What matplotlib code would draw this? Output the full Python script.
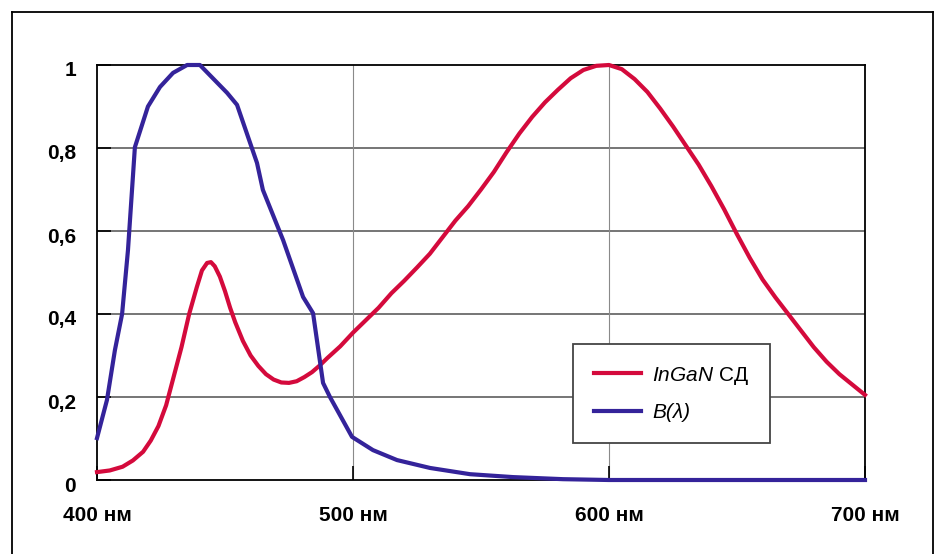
import matplotlib
matplotlib.use('Agg')
import matplotlib.pyplot as plt
from matplotlib.lines import Line2D
from matplotlib.transforms import ScaledTranslation

plt.rcParams['font.family'] = ['Liberation Sans', 'DejaVu Sans']
plt.rcParams['mathtext.fontset'] = 'custom'
plt.rcParams['mathtext.it'] = 'Liberation Sans:italic'
plt.rcParams['mathtext.rm'] = 'Liberation Sans'

# спектр InGaN светодиода
ingan_nm = [400, 405, 410, 414, 418, 421, 424, 427, 430, 433, 436, 439, 441, 443, 444.5,
            446, 448, 450, 452, 454, 457, 460, 463, 466, 469, 472, 475, 478, 481, 484, 487,
            490, 495, 500, 505, 510, 515, 520, 525, 530, 535, 540, 545, 550, 555, 560, 565,
            570, 575, 580, 585, 590, 595, 600, 605, 610, 615, 620, 625, 630, 635, 640, 645,
            650, 655, 660, 665, 670, 675, 680, 685, 690, 695, 700]
ingan_val = [0.019, 0.023, 0.032, 0.047, 0.068, 0.095, 0.13, 0.18, 0.25, 0.32, 0.40, 0.465,
             0.505, 0.523, 0.525, 0.515, 0.49, 0.455, 0.415, 0.38, 0.335, 0.30, 0.275, 0.255,
             0.242, 0.235, 0.234, 0.238, 0.248, 0.26, 0.276, 0.294, 0.322, 0.355, 0.385, 0.415,
             0.45, 0.48, 0.512, 0.545, 0.585, 0.625, 0.66, 0.70, 0.742, 0.79, 0.835, 0.875,
             0.91, 0.94, 0.968, 0.988, 0.998, 1.0, 0.99, 0.966, 0.935, 0.895, 0.852, 0.806,
             0.76, 0.708, 0.652, 0.592, 0.535, 0.483, 0.44, 0.40, 0.36, 0.32, 0.285, 0.255,
             0.23, 0.205]

# функция B(λ)
blue_nm = [400, 403.9, 407, 409.8, 412.1, 414.8, 419.9, 424.6, 429.7, 435.2, 440.2, 450.8,
           454.7, 462.5, 464.8, 472.7, 480.5, 484.4, 488.3, 491, 498.8, 499.6, 507.8, 517.2,
           530.1, 545.7, 562.5, 582, 600, 700]
blue_val = [0.101, 0.193, 0.313, 0.40, 0.554, 0.802, 0.90, 0.947, 0.981, 1.0, 1.0, 0.933,
            0.904, 0.764, 0.699, 0.578, 0.441, 0.402, 0.234, 0.200, 0.113, 0.104, 0.072, 0.048,
            0.029, 0.014, 0.007, 0.002, 0.0, 0.0]

x_ticks = [400, 500, 600, 700]
x_labels = ['400 нм', '500 нм', '600 нм', '700 нм']
y_ticks = [0, 0.2, 0.4, 0.6, 0.8, 1.0]
y_labels = ['0', '0,2', '0,4', '0,6', '0,8', '1']

W, H = 936, 554
fig = plt.figure(figsize=(W / 100, H / 100), dpi=100)
ax = fig.add_axes([97 / W, 1 - 480 / H, 768 / W, 415 / H])

# внешняя рамка
fr = dict(color='black', lw=1.3, transform=fig.transFigure)
fig.add_artist(Line2D([12 / W, 12 / W], [0, 1 - 12 / H], **fr))
fig.add_artist(Line2D([12 / W, 933 / W], [1 - 12 / H, 1 - 12 / H], **fr))
fig.add_artist(Line2D([933 / W, 933 / W], [0, 1 - 12 / H], **fr))

red = '#d40a3c'
blue = '#34239a'
ax.plot(ingan_nm, ingan_val, color=red, lw=3, solid_joinstyle='round', clip_on=False, zorder=4)
ax.plot(blue_nm, blue_val, color=blue, lw=3, solid_joinstyle='round', clip_on=False, zorder=5)

for y in y_ticks[1:-1]:
    ax.axhline(y, color='#505050', lw=1.1, zorder=1)
for x in x_ticks[1:-1]:
    ax.axvline(x, color='#8a8a8a', lw=0.8, zorder=1)

ax.set_xlim(400, 700)
ax.set_ylim(0, 1)
ax.set_xticks(x_ticks)
ax.set_xticklabels(x_labels)
ax.set_yticks(y_ticks)
ax.set_yticklabels(y_labels)
ax.tick_params(axis='both', direction='in', length=10, width=1.2, color='black',
               labelsize=15)
ax.tick_params(axis='x', pad=18.5)
ax.tick_params(axis='y', pad=15)
for lab in ax.get_xticklabels() + ax.get_yticklabels():
    lab.set_fontweight('bold')
for lab in ax.get_yticklabels():
    lab.set_transform(lab.get_transform() + ScaledTranslation(0, -4 / 100, fig.dpi_scale_trans))
for s in ax.spines.values():
    s.set_linewidth(1.3)
    s.set_color('black')

handles = [Line2D([], [], color=red, lw=3), Line2D([], [], color=blue, lw=3)]
leg = ax.legend(handles, ['$\\mathit{InGaN}$ СД', 'B(λ)'], loc='lower left',
                bbox_to_anchor=(0.620, 0.089), borderaxespad=0, fontsize=15,
                frameon=True, fancybox=False, edgecolor='#444444', framealpha=1,
                handlelength=2.25, handletextpad=0.55, labelspacing=0.8,
                borderpad=1.0)
leg.get_frame().set_linewidth(1.3)
leg.get_texts()[1].set_fontstyle('italic')
leg.set_zorder(6)

fig.savefig('out.png', dpi=100)
